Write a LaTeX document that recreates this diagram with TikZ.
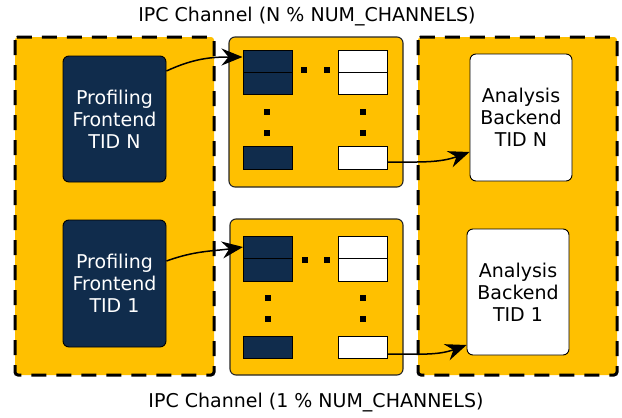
\documentclass[tikz,border=0pt]{standalone}
\usepackage{fontspec}
\setmainfont{DejaVu Sans}
\usetikzlibrary{arrows.meta}
\definecolor{amber}{RGB}{255,192,0}
\definecolor{navy}{RGB}{16,44,76}

\begin{document}
\begin{tikzpicture}[x=1pt,y=-1pt,
		grp/.style={draw=black,fill=amber,line width=3pt,
			dash pattern=on 15pt off 10pt,rounded corners=3pt},
		chan/.style={draw=black!85,fill=amber,line width=1.1pt,rounded corners=6pt},
		thread/.style={draw=black,line width=0.9pt,rounded corners=6pt,inner sep=0pt,
			align=center,font=\fontsize{19}{22}\selectfont},
		fe/.style={thread,fill=navy,text=white},
		be/.style={thread,fill=white,text=black},
		slot/.style={draw=black,line width=1pt,inner sep=0pt,minimum width=49pt},
		slotd/.style={slot,fill=navy},
		slotw/.style={slot,fill=white},
		sq/.style={fill=black,inner sep=0pt,minimum size=6.5pt},
		lbl/.style={font=\fontsize{19}{22}\selectfont},
		flow/.style={draw=black,line width=1.5pt,
			-{Stealth[length=21pt,width=17pt,inset=7pt]}}]

	\useasboundingbox (0,0) rectangle (622,418);

	%%%%%%%%%%%%%%%%  groups  %%%%%%%%%%%%%%%%
	\draw[grp] (15,37) rectangle (214,375);
	\draw[grp] (418,37) rectangle (617,375);

	%%%%%%%%%%%%%%%%  channels  %%%%%%%%%%%%%%%%
	\draw[chan] (229,37) rectangle (403,187);
	\draw[chan] (230,219) rectangle (403,375);

	\node[lbl] (title-n) at (307,17) {IPC Channel (N \% NUM\_CHANNELS)};
	\node[lbl] (title-1) at (316,403) {IPC Channel (1 \% NUM\_CHANNELS)};

	% channel N slots
	\node[slotd,minimum height=22pt] (ch-n-a) at (267.5,61) {};
	\node[slotd,minimum height=22pt] (ch-n-b) at (267.5,83) {};
	\node[slotd,minimum height=23pt] (ch-n-z) at (267.5,157.5) {};
	\node[slotw,minimum height=22pt] (ch-n-wa) at (363,61) {};
	\node[slotw,minimum height=22pt] (ch-n-wb) at (363,83) {};
	\node[slotw,minimum height=23pt] (ch-n-wz) at (363,157.5) {};
	% channel 1 slots
	\node[slotd,minimum height=22pt] (ch-1-a) at (268,247) {};
	\node[slotd,minimum height=23pt] (ch-1-b) at (268,269.5) {};
	\node[slotd,minimum height=22pt] (ch-1-z) at (268,347) {};
	\node[slotw,minimum height=22pt] (ch-1-wa) at (363,247) {};
	\node[slotw,minimum height=23pt] (ch-1-wb) at (363,269.5) {};
	\node[slotw,minimum height=22pt] (ch-1-wz) at (363,347) {};

	% ellipsis squares
	\foreach \x/\y [count=\k] in {304/70,327/70,267/112,267/133,363/112,363/133,
			305/260,327/260,268/298,268/319,363/298,363/319}
		\node[sq] (dot\k) at (\x,\y) {};

	%%%%%%%%%%%%%%%%  threads  %%%%%%%%%%%%%%%%
	\node[fe,minimum width=103pt,minimum height=126pt] (fe-n) at (114.5,119)
		{Profiling\\Frontend\\TID N};
	\node[fe,minimum width=103pt,minimum height=127pt] (fe-1) at (114.5,283.5)
		{Profiling\\Frontend\\TID 1};
	\node[be,minimum width=102pt,minimum height=127pt] (be-n) at (521,117.5)
		{Analysis\\Backend\\TID N};
	\node[be,minimum width=102pt,minimum height=126pt] (be-1) at (518,292)
		{Analysis\\Backend\\TID 1};

	% producers and consumers
	\draw[flow] ([yshift=48pt]fe-n.east) to[out=25,in=180] ([yshift=4pt]ch-n-a.west);
	\draw[flow] ([yshift=22.5pt]fe-1.east) to[out=20,in=188] (ch-1-a.west);
	\draw[flow] ([yshift=-4.5pt]ch-n-wz.east) to[out=0,in=200] ([yshift=-34.5pt]be-n.west);
	\draw[flow] ([yshift=-7pt]ch-1-wz.east) to[out=0,in=200] ([yshift=-53pt]be-1.west);
\end{tikzpicture}
\end{document}
